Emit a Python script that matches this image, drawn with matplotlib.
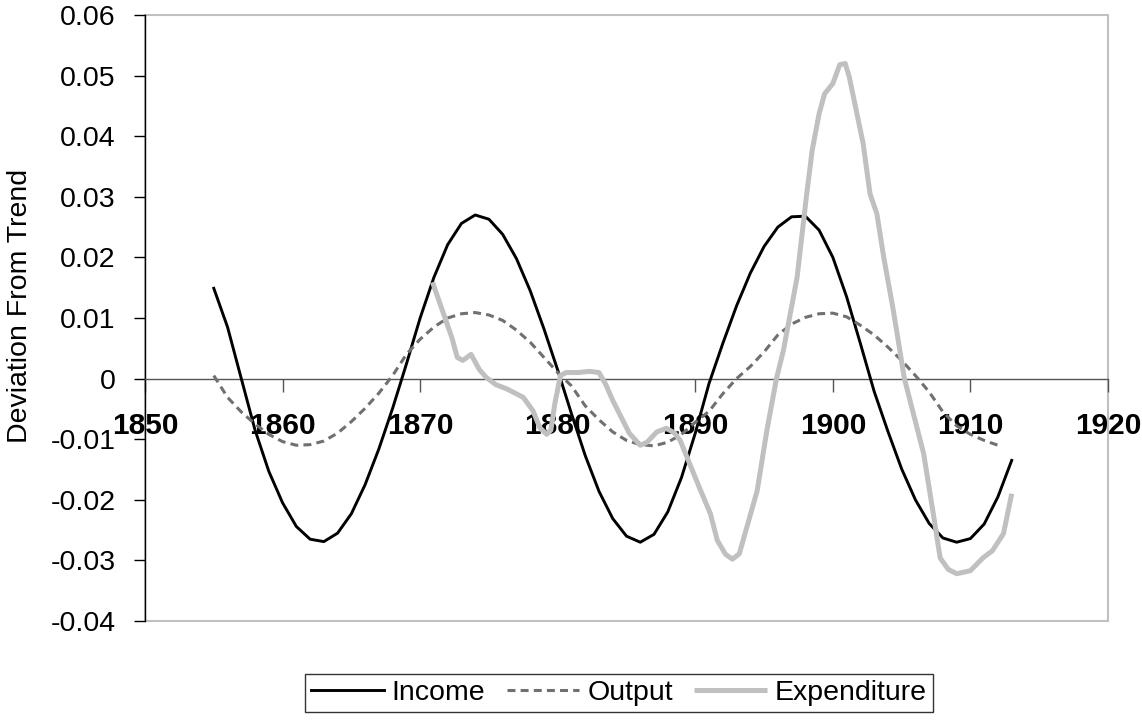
import numpy as np
import matplotlib
matplotlib.use("Agg")
import matplotlib.pyplot as plt
from matplotlib.patches import Rectangle

# annual series, 1855-1913
income_years = list(range(1855, 1914))
income = [0.0149, 0.0085, 0.0000, -0.0085, -0.0153, -0.0205, -0.0244, -0.0265,
          -0.0269, -0.0255, -0.0223, -0.0175, -0.0116, -0.0049,
          0.0024, 0.0100, 0.0167, 0.0221, 0.0256, 0.0270,
          0.0263, 0.0238, 0.0198, 0.0145, 0.0082, 0.0014,
          -0.0058, -0.0127, -0.0186, -0.0231, -0.0260, -0.0270,
          -0.0257, -0.0220, -0.0163, -0.0090, -0.0008,
          0.0058, 0.0120, 0.0174, 0.0218, 0.0250, 0.0267,
          0.0268, 0.0245, 0.0200, 0.0135, 0.0058,
          -0.0021, -0.0087, -0.0149, -0.0200, -0.0239, -0.0263, -0.0270,
          -0.0264, -0.0240, -0.0195, -0.0135]

# annual series, 1855-1912
output_years = list(range(1855, 1913))
output = [0.0005, -0.0031, -0.0055, -0.0075, -0.0092, -0.0104, -0.0110, -0.0109,
          -0.0103, -0.0090, -0.0071, -0.0049, -0.0024, 0.0005,
          0.0040, 0.0065, 0.0085, 0.0100, 0.0107, 0.0109,
          0.0105, 0.0096, 0.0080, 0.0060, 0.0035, 0.0010,
          -0.0012, -0.0045, -0.0068, -0.0088, -0.0102, -0.0109, -0.0111,
          -0.0105, -0.0092, -0.0072, -0.0054, -0.0025, 0.0000,
          0.0020, 0.0044, 0.0072, 0.0090, 0.0101, 0.0107, 0.0108,
          0.0102, 0.0088, 0.0072, 0.0052, 0.0030, 0.0005,
          -0.0022, -0.0055, -0.0078, -0.0092, -0.0102, -0.0110]

# expenditure is sampled more finely
exp_years = [1870.9, 1871.7, 1872.3, 1872.7, 1873.1, 1873.7, 1874.3, 1874.8,
             1875.5, 1876.3, 1877.5, 1878.2, 1878.7, 1879.2, 1879.5, 1879.8,
             1880.2, 1880.6, 1881.5, 1882.3, 1883.0, 1883.5, 1884.0, 1885.2,
             1886.0, 1886.5, 1887.2, 1887.9, 1888.5, 1888.9, 1890.3, 1891.1,
             1891.6, 1892.2, 1892.7, 1893.2, 1894.5, 1895.2, 1895.9, 1896.4,
             1897.4, 1898.1, 1898.5, 1899.0, 1899.4, 1900.0, 1900.5, 1900.9,
             1901.2, 1902.2, 1902.7, 1903.2, 1903.7, 1904.4, 1905.2, 1906.6,
             1907.3, 1907.8, 1908.4, 1909.0, 1910.0, 1910.9, 1911.6, 1912.4,
             1913.0]
expenditure = [0.0159, 0.0107, 0.0068, 0.0035, 0.0030, 0.0040, 0.0015, 0.0002,
               -0.0010, -0.0017, -0.0031, -0.0053, -0.0081, -0.0092, -0.0085, -0.0040,
               0.0005, 0.0010, 0.0010, 0.0012, 0.0010, -0.0010, -0.0036, -0.0090,
               -0.0110, -0.0105, -0.0088, -0.0082, -0.0090, -0.0102, -0.0180, -0.0223,
               -0.0267, -0.0290, -0.0298, -0.0289, -0.0185, -0.0086, 0.0000, 0.0046,
               0.0167, 0.0305, 0.0377, 0.0437, 0.0470, 0.0487, 0.0518, 0.0520,
               0.0497, 0.0388, 0.0305, 0.0272, 0.0200, 0.0112, 0.0000, -0.0124,
               -0.0223, -0.0296, -0.0315, -0.0322, -0.0317, -0.0296, -0.0284, -0.0256,
               -0.0190]

x_ticks = [1850, 1860, 1870, 1880, 1890, 1900, 1910, 1920]
y_ticks = [0.06, 0.05, 0.04, 0.03, 0.02, 0.01, 0, -0.01, -0.02, -0.03, -0.04]
y_labels = ['0.06', '0.05', '0.04', '0.03', '0.02', '0.01', '0',
            '-0.01', '-0.02', '-0.03', '-0.04']

plt.rcParams['font.family'] = ['Liberation Sans', 'DejaVu Sans']

fig = plt.figure(figsize=(11.42, 7.2), dpi=100)
ax = fig.add_axes([145 / 1142, 99 / 720, 963 / 1142, 606 / 720])

ax.plot(income_years, income, color='black', lw=2.1, label='Income', zorder=3)
ax.plot(output_years, output, color='#707070', lw=2.2, dashes=(2.6, 1.7),
        label='Output', zorder=4)
ax.plot(exp_years, expenditure, color='#c0c0c0', lw=3.6, label='Expenditure',
        zorder=5, solid_capstyle='butt')

ax.set_xlim(1850, 1920)
ax.set_ylim(-0.04, 0.06)

# plot area border
ax.add_patch(Rectangle((0, 0), 1, 1, transform=ax.transAxes, fill=False,
                       edgecolor='#c0c0c0', lw=1.5, zorder=1, clip_on=False))
for s in ['top', 'right']:
    ax.spines[s].set_visible(False)
ax.spines['left'].set_color('black')
ax.spines['left'].set_linewidth(1.0)
ax.spines['bottom'].set_position(('data', 0))
ax.spines['bottom'].set_color('#555555')
ax.spines['bottom'].set_linewidth(1.0)

ax.set_xticks(x_ticks)
ax.set_xticklabels([str(t) for t in x_ticks], fontweight='bold', fontsize=21.5)
ax.tick_params(axis='x', direction='out', length=9, width=1, color='#555555', pad=15)
ax.set_yticks(y_ticks)
ax.set_yticklabels(y_labels, fontsize=20.5)
ax.tick_params(axis='y', direction='out', length=8, width=1, color='black', pad=13)

fig.text(20 / 1142, 1 - 306 / 720, 'Deviation From Trend', rotation=90,
         ha='center', va='center', fontsize=20.5)

leg = fig.legend(loc='center', bbox_to_anchor=(619 / 1142, 1 - 693 / 720), ncol=3,
                 fontsize=20.5, frameon=True, fancybox=False, handlelength=2.55,
                 handletextpad=0.28, columnspacing=0.75, borderpad=0.2,
                 borderaxespad=0)
leg.get_frame().set_edgecolor('black')
leg.get_frame().set_linewidth(1.0)

fig.savefig('out.png', dpi=100)
